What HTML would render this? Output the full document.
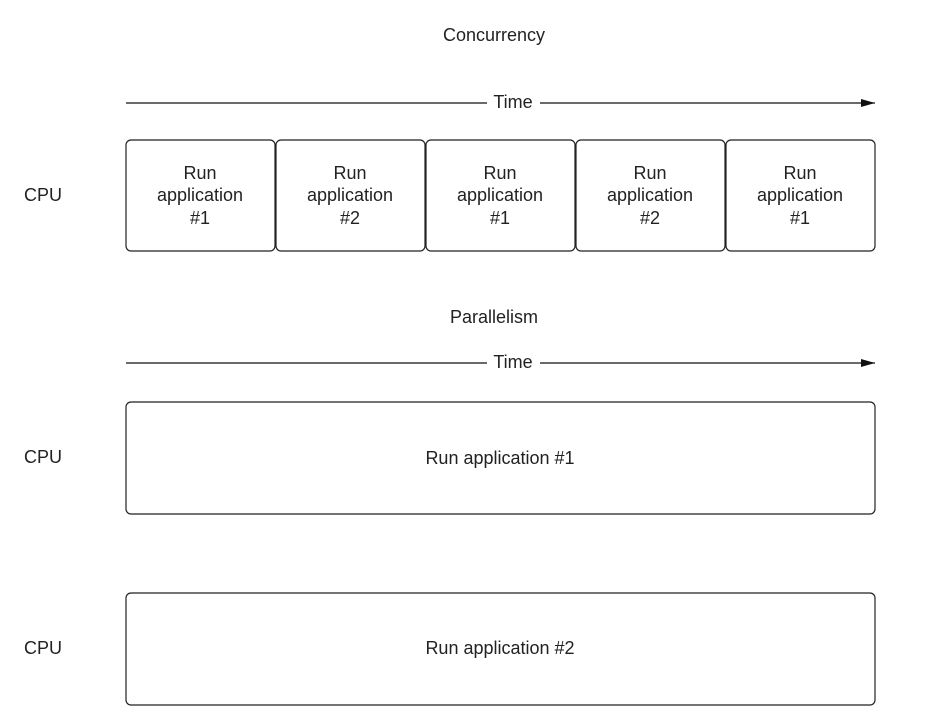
<!DOCTYPE html>
<html><head><style>body{margin:0;background:#fff}svg{display:block}text{font-family:"Liberation Sans",Arial,sans-serif;font-size:18px;fill:#222}</style></head><body>
<svg width="940" height="726" viewBox="0 0 940 726" xmlns="http://www.w3.org/2000/svg">
<defs><marker id="a" markerWidth="14" markerHeight="8" refX="14" refY="4" orient="auto" markerUnits="userSpaceOnUse"><path d="M0,0 L14,4 L0,8 Z" fill="#111"/></marker></defs>
<g text-anchor="middle">
<text x="494" y="41">Concurrency</text>
<text x="494" y="323">Parallelism</text>
</g>
<line x1="126" y1="103" x2="487" y2="103" stroke="#111" stroke-width="1.3"/>
<line x1="540" y1="103" x2="875" y2="103" stroke="#111" stroke-width="1.3" marker-end="url(#a)"/>
<text x="513" y="108" text-anchor="middle">Time</text>
<line x1="126" y1="363" x2="487" y2="363" stroke="#111" stroke-width="1.3"/>
<line x1="540" y1="363" x2="875" y2="363" stroke="#111" stroke-width="1.3" marker-end="url(#a)"/>
<text x="513" y="368" text-anchor="middle">Time</text>
<text x="24" y="201">CPU</text>
<text x="24" y="463">CPU</text>
<text x="24" y="654">CPU</text>
<g fill="#fff" stroke="#222" stroke-width="1.2">
<rect x="126" y="140" width="149" height="111" rx="5"/>
<rect x="276" y="140" width="149" height="111" rx="5"/>
<rect x="426" y="140" width="149" height="111" rx="5"/>
<rect x="576" y="140" width="149" height="111" rx="5"/>
<rect x="726" y="140" width="149" height="111" rx="5"/>
<rect x="126" y="402" width="749" height="112" rx="5"/>
<rect x="126" y="593" width="749" height="112" rx="5"/>
</g>
<g text-anchor="middle">
<text x="200" y="179">Run</text><text x="200" y="201">application</text><text x="200" y="224">#1</text>
<text x="350" y="179">Run</text><text x="350" y="201">application</text><text x="350" y="224">#2</text>
<text x="500" y="179">Run</text><text x="500" y="201">application</text><text x="500" y="224">#1</text>
<text x="650" y="179">Run</text><text x="650" y="201">application</text><text x="650" y="224">#2</text>
<text x="800" y="179">Run</text><text x="800" y="201">application</text><text x="800" y="224">#1</text>
<text x="500" y="464">Run application #1</text>
<text x="500" y="654">Run application #2</text>
</g>
</svg>
</body></html>
